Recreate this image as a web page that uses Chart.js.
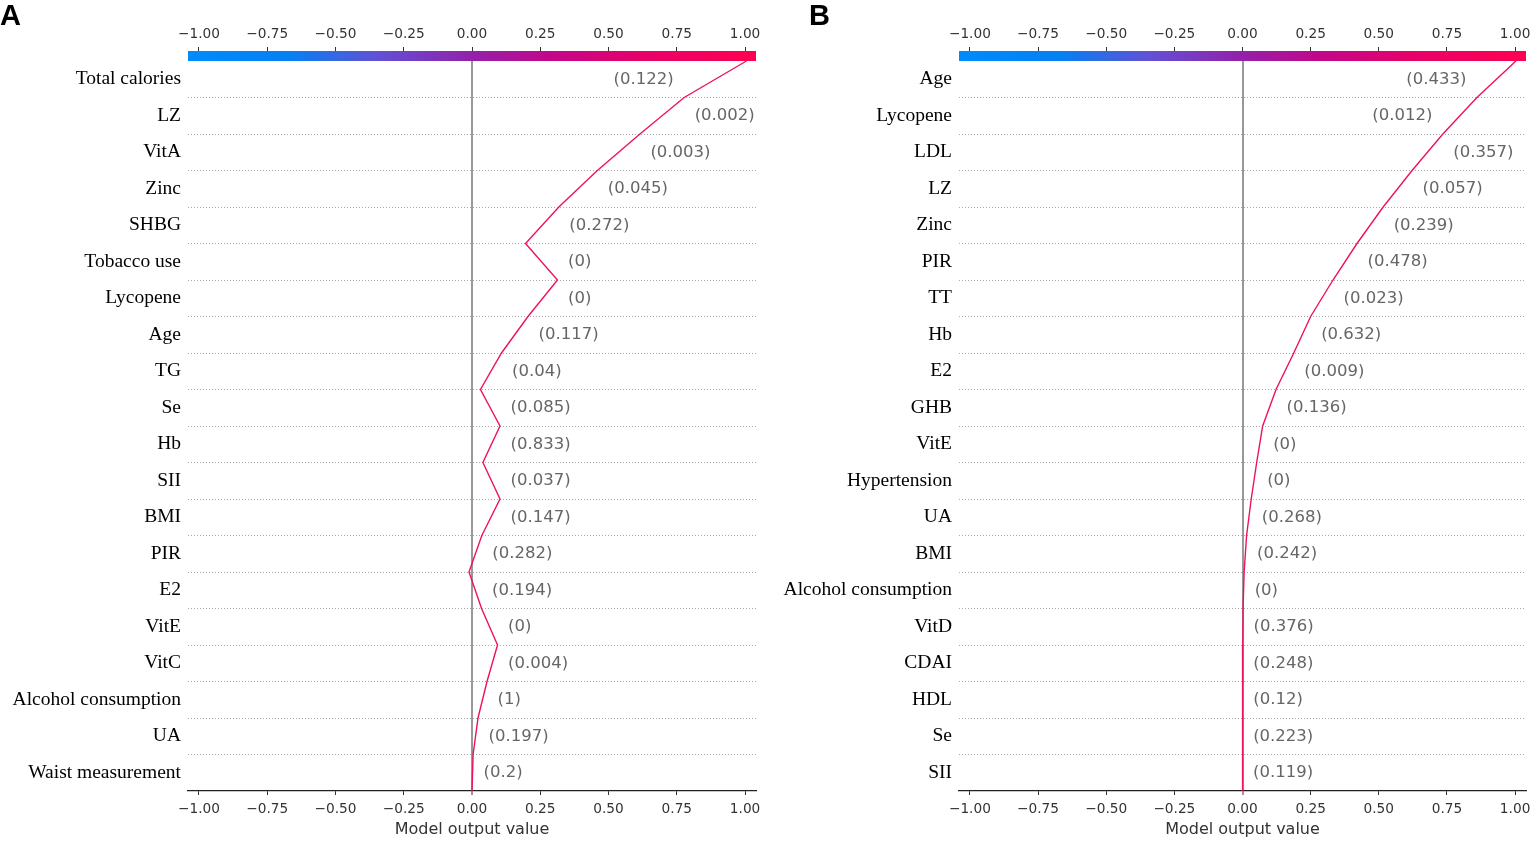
<!DOCTYPE html>
<html>
<head>
<meta charset="utf-8">
<title>Decision plots A and B</title>
<script src="https://cdn.jsdelivr.net/npm/chart.js@4.4.1/dist/chart.umd.min.js"></script>
<style>
  body { margin: 0; background: #fff; }
  .wrap { position: relative; width: 1535px; height: 844px; overflow: hidden; }
  .panel { position: absolute; top: 0; }
  .tag { position: absolute; top: -2px; font: bold 29px "Liberation Sans", Arial, sans-serif; color: #000; line-height: 34px; }
</style>
</head>
<body>
<div class="wrap">
  <canvas id="chartA" class="panel" width="768" height="844" style="left:0"></canvas>
  <canvas id="chartB" class="panel" width="767" height="844" style="left:768px"></canvas>
  <div class="tag" style="left:0px">A</div>
  <div class="tag" style="left:809px">B</div>
</div>
<script>
// tick labels shared by top and bottom axes
const xTicks = [-1, -0.75, -0.5, -0.25, 0, 0.25, 0.5, 0.75, 1];
const xMin = -1.04, xMax = 1.04;

// panel A, rows listed top to bottom
const featuresA = ['Total calories', 'LZ', 'VitA', 'Zinc', 'SHBG', 'Tobacco use', 'Lycopene', 'Age', 'TG', 'Se',
  'Hb', 'SII', 'BMI', 'PIR', 'E2', 'VitE', 'VitC', 'Alcohol consumption', 'UA', 'Waist measurement'];
const featureValuesA = [0.122, 0.002, 0.003, 0.045, 0.272, 0, 0, 0.117, 0.04, 0.085,
  0.833, 0.037, 0.147, 0.282, 0.194, 0, 0.004, 1, 0.197, 0.2];
// model output at each row boundary, from the top (prediction) down to the base value
const pathA = [1.005, 0.777, 0.615, 0.459, 0.318, 0.196, 0.313, 0.205, 0.108, 0.031, 0.1025,
  0.04, 0.1025, 0.036, -0.011, 0.035, 0.0935, 0.055, 0.022, 0.004, 0];

// panel B
const featuresB = ['Age', 'Lycopene', 'LDL', 'LZ', 'Zinc', 'PIR', 'TT', 'Hb', 'E2', 'GHB',
  'VitE', 'Hypertension', 'UA', 'BMI', 'Alcohol consumption', 'VitD', 'CDAI', 'HDL', 'Se', 'SII'];
const featureValuesB = [0.433, 0.012, 0.357, 0.057, 0.239, 0.478, 0.023, 0.632, 0.009, 0.136,
  0, 0, 0.268, 0.242, 0, 0.376, 0.248, 0.12, 0.223, 0.119];
const pathB = [1.003, 0.86, 0.735, 0.622, 0.516, 0.42, 0.332, 0.25, 0.188, 0.123, 0.074,
  0.052, 0.032, 0.015, 0.006, 0.002, 0.001, 0.001, 0.0005, 0, 0];

const BAR_ROWS = 0.274;   // colour bar height, in row units

Chart.defaults.font.family = '"DejaVu Sans", sans-serif';

function fmtTick(v) {
  return (v < 0 ? '\u2212' : '') + Math.abs(v).toFixed(2);
}
function fmtValue(v) {
  return '(' + v.toFixed(3).replace(/0+$/, '').replace(/\.$/, '') + ')';
}

// shap style red_blue colour bar above the plot
const colorBar = {
  id: 'colorBar',
  beforeDatasetsDraw(chart) {
    const { ctx, scales: { x, y } } = chart;
    const top = y.getPixelForValue(y.max), bottom = y.getPixelForValue(y.max - BAR_ROWS);
    const g = ctx.createLinearGradient(x.left, 0, x.right, 0);
    g.addColorStop(0, 'rgb(0,139,251)');
    g.addColorStop(0.18, 'rgb(5,128,242)');
    g.addColorStop(0.33, 'rgb(95,82,214)');
    g.addColorStop(0.5, 'rgb(148,32,170)');
    g.addColorStop(0.63, 'rgb(192,8,140)');
    g.addColorStop(0.8, 'rgb(232,0,106)');
    g.addColorStop(1, 'rgb(255,0,81)');
    ctx.save();
    ctx.fillStyle = g;
    ctx.fillRect(x.left, top, x.right - x.left, bottom - top);
    ctx.restore();
  }
};

// feature values written next to the path, like shap.decision_plot
const valueLabels = {
  id: 'valueLabels',
  afterDatasetsDraw(chart, args, opts) {
    const { ctx, chartArea, scales: { x, y } } = chart;
    const rows = opts.values.length;
    ctx.save();
    ctx.font = '16.5px "DejaVu Sans"';
    ctx.fillStyle = '#666666';
    ctx.textBaseline = 'middle';
    opts.values.forEach((v, r) => {
      const a = opts.path[r], b = opts.path[r + 1];
      const label = fmtValue(v);
      const yy = y.getPixelForValue(rows - r - 0.5);
      let txt = '  ' + label;
      let xx = x.getPixelForValue(Math.max(a, b));
      ctx.textAlign = 'left';
      if (xx + ctx.measureText(txt).width > chartArea.right) {
        txt = label + '  ';
        xx = x.getPixelForValue(Math.min(a, b));
        ctx.textAlign = 'right';
      }
      ctx.fillText(txt, xx, yy);
    });
    ctx.restore();
  }
};

function makeChart(id, features, values, path, yWidth, padRight) {
  const rows = features.length;
  return new Chart(document.getElementById(id), {
    type: 'scatter',
    data: {
      datasets: [{
        data: path.map((v, i) => ({ x: v, y: rows - i })),
        showLine: true,
        borderColor: '#ee125c',
        borderWidth: 1.4,
        pointRadius: 0,
        tension: 0
      }]
    },
    plugins: [colorBar, valueLabels],
    options: {
      responsive: false,
      animation: false,
      layout: { padding: { left: 0, right: padRight, top: 0, bottom: 0 } },
      plugins: {
        legend: { display: false },
        tooltip: { enabled: false },
        valueLabels: { values: values, path: path }
      },
      scales: {
        x: {
          type: 'linear', position: 'bottom', min: xMin, max: xMax,
          afterBuildTicks: s => { s.ticks = xTicks.map(v => ({ value: v })); },
          afterFit: s => { s.height = 53; s.paddingLeft = 0; s.paddingRight = 0; },
          grid: {
            drawOnChartArea: true,
            color: c => (c.tick && c.tick.value === 0) ? '#999999' : 'rgba(0,0,0,0)',
            lineWidth: c => (c.tick && c.tick.value === 0) ? 2 : 1,
            tickColor: '#333333', tickWidth: 1, tickLength: 4
          },
          border: { display: true, color: '#222222', width: 1.2 },
          ticks: { callback: fmtTick, color: '#333333', font: { size: 13.7 }, padding: 6, maxRotation: 0, autoSkip: false },
          title: { display: true, text: 'Model output value', color: '#333333', font: { size: 16 }, padding: { top: 0, bottom: 5 } }
        },
        xt: {
          type: 'linear', position: 'top', min: xMin, max: xMax,
          afterBuildTicks: s => { s.ticks = xTicks.map(v => ({ value: v })); },
          afterFit: s => { s.height = 51; s.paddingLeft = 0; s.paddingRight = 0; },
          grid: { drawOnChartArea: false, tickColor: '#333333', tickWidth: 1, tickLength: 4 },
          border: { display: false },
          ticks: { callback: fmtTick, color: '#333333', font: { size: 13.7 }, padding: 4, maxRotation: 0, autoSkip: false }
        },
        y: {
          type: 'linear', position: 'left', min: 0, max: rows + BAR_ROWS,
          afterBuildTicks: s => {
            const t = [];
            for (let k = 0; k <= rows; k++) t.push({ value: k });
            for (let k = 0; k < rows; k++) t.push({ value: k + 0.5 });
            s.ticks = t;
          },
          afterFit: s => { s.width = yWidth; s.paddingTop = 0; s.paddingBottom = 0; },
          grid: {
            drawTicks: false,
            color: c => (c.tick && Number.isInteger(c.tick.value) && c.tick.value > 0 && c.tick.value < rows)
              ? '#a8a8a8' : 'rgba(0,0,0,0)',
            lineWidth: 1
          },
          border: { display: false, dash: [1, 2] },
          ticks: {
            autoSkip: false,
            padding: 7,
            color: '#000000',
            font: { family: '"Liberation Serif", "Times New Roman", serif', size: 19.5 },
            callback: v => Number.isInteger(v) ? '' : features[rows - 1 - Math.floor(v)]
          }
        }
      }
    }
  });
}

makeChart('chartA', featuresA, featureValuesA, pathA, 188, 12);
makeChart('chartB', featuresB, featureValuesB, pathB, 191, 9);
</script>
</body>
</html>
